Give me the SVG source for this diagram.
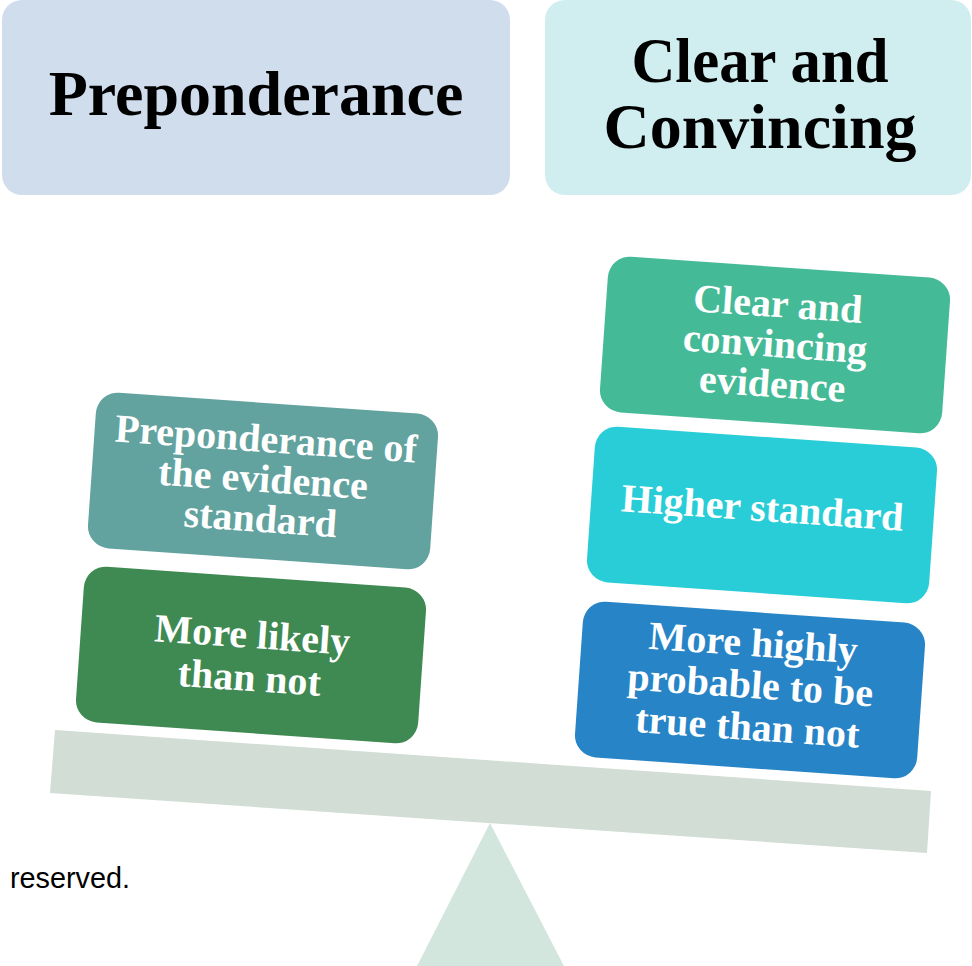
<svg xmlns="http://www.w3.org/2000/svg" width="972" height="966" viewBox="0 0 972 966">
<style>
.hdr{font-family:"Liberation Serif","Times New Roman",serif;font-weight:bold;font-size:64px;fill:#000;text-anchor:middle}
.bt{font-family:"Liberation Serif","Times New Roman",serif;font-weight:bold;font-size:40px;fill:#fff;text-anchor:middle}
.note{font-family:"Liberation Sans",Arial,sans-serif;font-size:29px;fill:#000}
</style>
<rect width="972" height="966" fill="#fff"/>
<g id="fulcrum"><polygon points="490,823 417,966 564,966" fill="#D3E6DD"/></g>
<g id="beam"><polygon points="55,730 931,791 927,853 50,793" fill="#D2DDD5"/></g>
<g id="hdr-pre">
<rect x="2" y="0" width="508" height="195" rx="20" fill="#D0DDEC"/>
<text class="hdr" x="256" y="115">Preponderance</text>
</g>
<g id="hdr-cc">
<rect x="545" y="0" width="426" height="195" rx="20" fill="#D0EEF0"/>
<text class="hdr" x="760" y="82" textLength="257" lengthAdjust="spacingAndGlyphs">Clear and</text>
<text class="hdr" x="760" y="148">Convincing</text>
</g>
<g id="box-pre" transform="translate(263,481) rotate(4)">
<rect x="-171.5" y="-78" width="343" height="156" rx="22" fill="#62A39F"/>
<text class="bt" x="0" y="-29">Preponderance of</text>
<text class="bt" x="0" y="11">the evidence</text>
<text class="bt" x="0" y="51">standard</text>
</g>
<g id="box-likely" transform="translate(251,655) rotate(4)">
<rect x="-171.5" y="-78" width="343" height="156" rx="22" fill="#3F8953"/>
<text class="bt" x="0" y="-7">More likely</text>
<text class="bt" x="0" y="36">than not</text>
</g>
<g id="box-cce" transform="translate(775,345) rotate(4)">
<rect x="-171.5" y="-78" width="343" height="156" rx="22" fill="#45BA97"/>
<text class="bt" x="0" y="-28">Clear and</text>
<text class="bt" x="0" y="12">convincing</text>
<text class="bt" x="0" y="52">evidence</text>
</g>
<g id="box-higher" transform="translate(762,515) rotate(4)">
<rect x="-171.5" y="-78" width="343" height="156" rx="22" fill="#29CDD7"/>
<text class="bt" x="0" y="6">Higher standard</text>
</g>
<g id="box-highly" transform="translate(750,690) rotate(4)">
<rect x="-171.5" y="-78" width="343" height="156" rx="22" fill="#2784C6"/>
<text class="bt" x="0" y="-34">More highly</text>
<text class="bt" x="0" y="8">probable to be</text>
<text class="bt" x="0" y="50">true than not</text>
</g>
<g id="connectors"></g>
<text class="note" x="10" y="888" textLength="120" lengthAdjust="spacingAndGlyphs">reserved.</text>
</svg>
